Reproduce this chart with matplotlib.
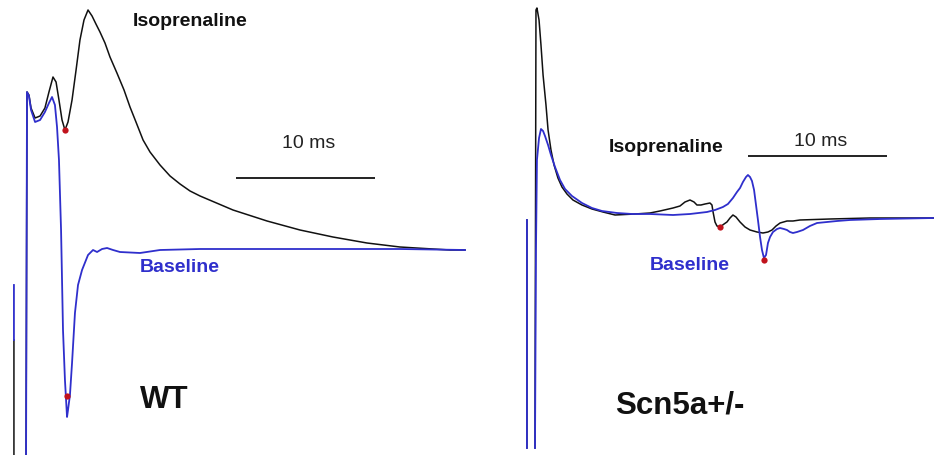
import numpy as np
import matplotlib
matplotlib.use("Agg")
import matplotlib.pyplot as plt

plt.rcParams["font.family"] = ["Liberation Sans", "DejaVu Sans"]

nan = np.nan

# ---- WT electrogram (time in ms, amplitude in arbitrary units) ----
wt_iso_t = [-0.94, -0.94, nan, -0.07, 0.00, 0.14, 0.29, 0.58, 0.94, 1.29, 1.58, 1.87,
            2.09, 2.30, 2.52, 2.73, 2.95, 3.24, 3.53, 3.81, 4.10, 4.39, 4.68, 4.96,
            5.25, 5.61, 5.97, 6.47, 6.98, 7.41, 7.84, 8.35, 8.85, 9.57, 10.29, 11.01,
            11.73, 12.45, 14.82, 17.27, 19.64, 22.01, 24.46, 26.83, 29.21, 30.43, 31.51]
wt_iso_v = [-22.0, -9.0, nan, -22.0, 15.8, 15.5, 14.2, 13.2, 13.4, 14.2, 15.8, 17.3,
            16.8, 15.0, 13.0, 12.0, 12.8, 15.0, 18.0, 21.0, 23.0, 24.0, 23.4, 22.6,
            21.8, 20.7, 19.3, 17.7, 16.0, 14.3, 12.8, 11.0, 9.8, 8.5, 7.4, 6.6,
            5.9, 5.4, 4.0, 2.9, 2.0, 1.3, 0.7, 0.3, 0.1, 0.0, 0.0]

wt_base_t = [-0.94, -0.94, nan, -0.07, 0.00, 0.14, 0.29, 0.58, 0.94, 1.29, 1.58, 1.80,
             2.01, 2.16, 2.30, 2.45, 2.59, 2.73, 2.88, 2.95, 3.09, 3.24, 3.45, 3.67,
             3.96, 4.39, 4.75, 5.04, 5.40, 5.76, 6.19, 6.69, 8.13, 9.57, 12.45, 19.64,
             26.83, 31.51]
wt_base_v = [-9.0, -3.5, nan, -22.0, 15.8, 15.4, 14.0, 12.8, 13.0, 13.8, 14.7, 15.3,
             14.5, 12.3, 9.0, 2.0, -8.0, -13.0, -16.7, -16.0, -14.5, -11.3, -6.3, -3.5,
             -2.0, -0.5, 0.0, -0.2, 0.1, 0.2, 0.0, -0.2, -0.3, 0.0, 0.1, 0.1,
             0.1, 0.0]

wt_marks_iso = (2.73, 12.0)
wt_marks_base = (2.88, -14.6)

# ---- Scn5a+/- electrogram ----
het_iso_t = [-0.58, -0.58, nan, 0.00, 0.07, 0.14, 0.29, 0.43, 0.58, 0.79, 0.94, 1.15,
             1.37, 1.65, 1.94, 2.30, 2.73, 3.38, 4.10, 4.89, 5.76, 7.19, 8.27, 8.99,
             9.93, 10.43, 10.79, 11.15, 11.44, 11.65, 11.94, 12.23, 12.59, 12.73, 12.81,
             12.95, 13.09, 13.31, 13.60, 13.81, 14.03, 14.24, 14.46, 14.75, 15.11, 15.47,
             15.97, 16.40, 16.76, 17.05, 17.34, 17.63, 18.13, 18.56, 19.06, 21.22, 24.10,
             28.70]
het_iso_v = [-23.0, -0.2, nan, -23.0, 20.8, 21.0, 19.8, 17.3, 14.3, 11.3, 8.8, 6.8,
             5.3, 4.0, 3.1, 2.4, 1.8, 1.3, 0.9, 0.6, 0.3, 0.4, 0.5, 0.7,
             1.0, 1.2, 1.6, 1.8, 1.6, 1.3, 1.3, 1.4, 1.5, 1.3, 0.6,
             -0.4, -0.8, -0.9, -0.6, -0.4, 0.0, 0.3, 0.1, -0.4, -0.9, -1.2,
             -1.4, -1.5, -1.4, -1.2, -0.8, -0.5, -0.3, -0.3, -0.2, -0.1, 0.0,
             0.0]

het_base_t = [-0.58, -0.58, nan, 0.00, 0.07, 0.14, 0.29, 0.43, 0.58, 0.72, 0.94, 1.15,
              1.44, 1.80, 2.16, 2.66, 3.38, 4.10, 4.82, 5.90, 6.98, 8.27, 9.93, 11.15,
              12.37, 12.95, 13.52, 13.88, 14.24, 14.53, 14.75, 14.96, 15.18, 15.32, 15.47,
              15.61, 15.76, 15.90, 16.04, 16.19, 16.33, 16.47, 16.62, 16.76, 16.91, 17.12,
              17.41, 17.63, 17.91, 18.13, 18.34, 18.56, 18.85, 19.28, 19.78, 20.29, 21.01,
              21.73, 22.66, 24.82, 28.70]
het_base_v = [-23.0, -0.2, nan, -23.0, -3.2, 5.8, 8.0, 8.9, 8.7, 8.2, 7.3, 6.3,
              5.1, 3.8, 2.9, 2.2, 1.5, 1.0, 0.7, 0.5, 0.4, 0.4, 0.3, 0.4,
              0.6, 0.8, 1.1, 1.4, 2.0, 2.6, 3.0, 3.6, 4.1, 4.3, 4.1,
              3.7, 2.8, 1.3, -0.2, -1.9, -3.2, -4.0, -3.7, -2.5, -1.9, -1.4,
              -1.1, -1.0, -1.1, -1.2, -1.4, -1.5, -1.4, -1.2, -0.8, -0.5, -0.4,
              -0.3, -0.2, -0.1, 0.0]

het_marks_iso = (13.31, -0.9)
het_marks_base = (16.47, -4.2)

BLACK = "#111111"
BLUE = "#2f2fcc"
RED = "#c0121c"
SCALE_MS = 10.0

fig = plt.figure(figsize=(9.34, 4.55), dpi=100, facecolor="white")
ax_wt = fig.add_axes([0.0, 0.0, 0.5, 1.0])
ax_het = fig.add_axes([0.5, 0.0, 0.5, 1.0])


def draw_panel(ax, iso_t, iso_v, base_t, base_v, mark_iso, mark_base,
               xlim, ylim, bar_start, bar_y, labels, title, title_pos):
    ax.plot(iso_t, iso_v, color=BLACK, lw=1.1, solid_joinstyle="round", zorder=2)
    ax.plot(base_t, base_v, color=BLUE, lw=1.3, solid_joinstyle="round", zorder=3)
    ax.plot(*mark_iso, "o", color=RED, ms=4.5, mec="none", zorder=4)
    ax.plot(*mark_base, "o", color=RED, ms=4.5, mec="none", zorder=4)
    ax.plot([bar_start, bar_start + SCALE_MS], [bar_y, bar_y], color="#222222",
            lw=1.4, solid_capstyle="butt")
    ax.text(bar_start + SCALE_MS / 2 + 0.25, labels["ms"][1], "10 ms",
            fontsize=14, ha="center", va="center", color="#222222")
    ax.text(*labels["iso"], "Isoprenaline", fontsize=14, fontweight="bold",
            ha="center", va="center", color=BLACK)
    ax.text(*labels["base"], "Baseline", fontsize=14, fontweight="bold",
            ha="center", va="center", color=BLUE)
    ax.text(*title_pos, title, fontsize=22.5, fontweight="bold",
            ha="center", va="center", color=BLACK)
    ax.set_xlim(*xlim)
    ax.set_ylim(*ylim)
    ax.axis("off")


draw_panel(ax_wt, wt_iso_t, wt_iso_v, wt_base_t, wt_base_v,
           wt_marks_iso, wt_marks_base,
           xlim=(-27 / 13.9, 440 / 13.9), ylim=(-20.5, 25.0),
           bar_start=15.04, bar_y=7.2,
           labels={"ms": (20.3, 10.7), "iso": (11.7, 22.8), "base": (11.0, -1.8)},
           title="WT", title_pos=(9.9, -15.0))

draw_panel(ax_het, het_iso_t, het_iso_v, het_base_t, het_base_v,
           het_marks_iso, het_marks_base,
           xlim=(-68 / 13.9, 399 / 13.9), ylim=(-23.7, 21.8),
           bar_start=15.32, bar_y=6.2,
           labels={"ms": (20.3, 7.6), "iso": (9.42, 7.0), "base": (11.15, -4.7)},
           title="Scn5a+/-", title_pos=(10.43, -18.7))

fig.savefig("out.png", dpi=100, facecolor="white")
